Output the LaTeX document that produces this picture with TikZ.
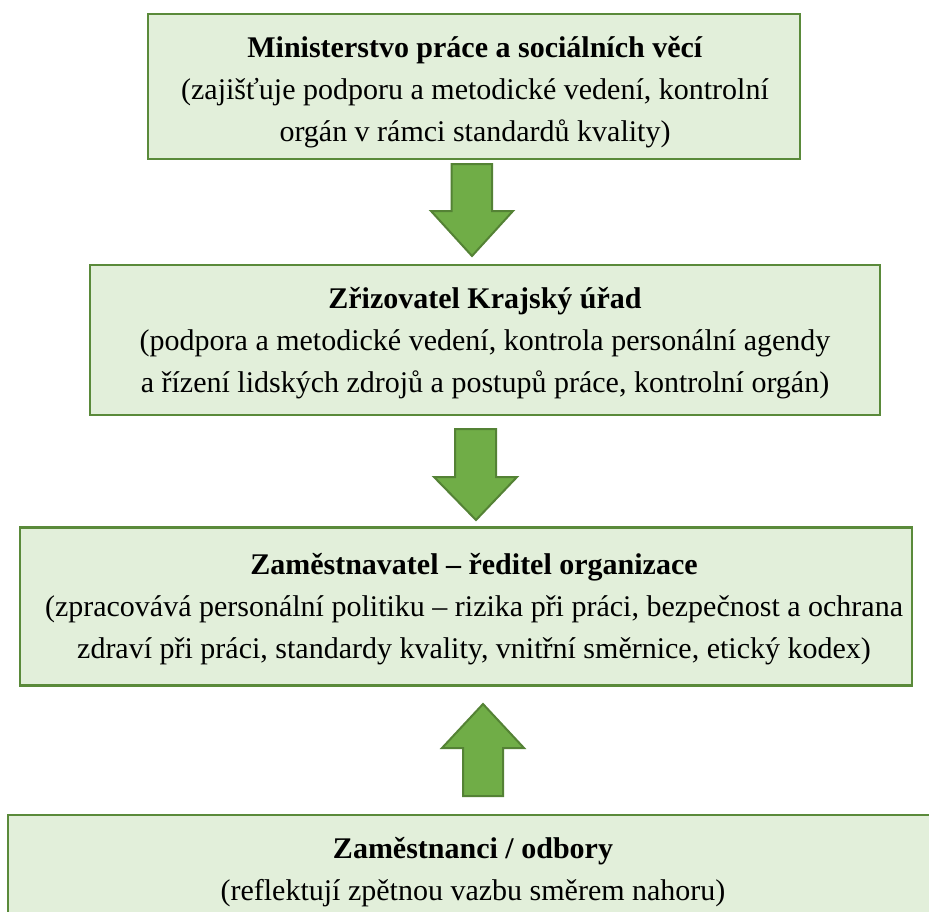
\documentclass[tikz,border=0pt]{standalone}
\usepackage{fontspec}
\setmainfont{Liberation Serif}
\definecolor{boxfill}{HTML}{E2EFDA}
\definecolor{boxline}{HTML}{5A8A3A}
\definecolor{arrfill}{HTML}{70AD47}
\definecolor{arrline}{HTML}{548235}
\begin{document}
\begin{tikzpicture}[x=1pt,y=-1pt,
  box/.style={draw=boxline, line width=2.5pt, fill=boxfill, inner sep=0pt},
  boxtext/.style={align=center, font=\fontsize{30}{42}\selectfont, anchor=base, inner sep=0pt},
  blockarrow/.style={draw=arrline, line width=2pt, fill=arrfill, line join=miter}]
\useasboundingbox (0,0) rectangle (929,911);
\fill[white] (0,0) rectangle (929,911);
\node[box, minimum width=652pt, minimum height=145pt] (b1) at (474,86.5) {};
\node[boxtext] (t1) at (475,141)
  {\textbf{Ministerstvo práce a sociálních věcí}\\
   (zajišťuje podporu a metodické vedení, kontrolní\\
   orgán v rámci standardů kvality)};
\node[box, minimum width=790pt, minimum height=150pt] (b2) at (485,340) {};
\node[boxtext] (t2) at (485,392)
  {\textbf{Zřizovatel Krajský úřad}\\
   (podpora a metodické vedení, kontrola personální agendy\\
   a řízení lidských zdrojů a postupů práce, kontrolní orgán)};
\node[box, minimum width=892pt, minimum height=158pt] (b3) at (466,606.5) {};
\node[boxtext] (t3) at (474,658)
  {\textbf{Zaměstnavatel – ředitel organizace}\\
   (zpracovává personální politiku – rizika při práci, bezpečnost a ochrana\\
   zdraví při práci, standardy kvality, vnitřní směrnice, etický kodex)};
\node[box, minimum width=932pt, minimum height=130pt] (b4) at (474,880) {};
\node[boxtext] (t4) at (473,900)
  {\textbf{Zaměstnanci / odbory}\\
   (reflektují zpětnou vazbu směrem nahoru)};
% block arrows
\draw[blockarrow] (451.5,164) -- (492,164) -- (492,211) -- (513,211) -- (472,256)
  -- (431,211) -- (451.5,211) -- cycle;
\draw[blockarrow] (455,429) -- (496,429) -- (496,477) -- (517,477) -- (476,520)
  -- (434,477) -- (455,477) -- cycle;
\draw[blockarrow] (463,796) -- (503,796) -- (503,748) -- (524,748) -- (483,704)
  -- (442,748) -- (463,748) -- cycle;
\end{tikzpicture}
\end{document}
